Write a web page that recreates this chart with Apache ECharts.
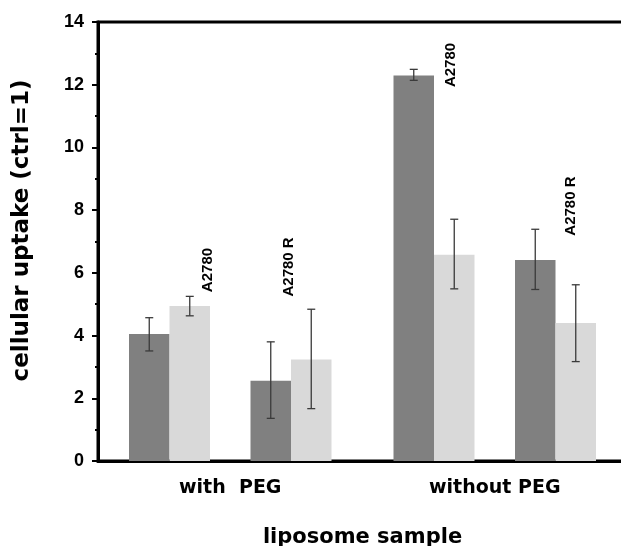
<!DOCTYPE html>
<html>
<head>
<meta charset="utf-8">
<script src="https://cdn.jsdelivr.net/npm/echarts@6/dist/echarts.min.js"></script>
<style>
  html, body { margin: 0; padding: 0; background: #fff; }
  #chart { width: 621px; height: 546px; }
</style>
</head>
<body>
<div id="chart"></div>
<script>
// categories
const groups = ['with  PEG', 'without PEG'];

// bar values per series (index = group)
const darkA2780 = [4.05, 12.29];
const lightA2780 = [4.94, 6.58];
const darkA2780R = [2.56, 6.41];
const lightA2780R = [3.24, 4.40];

// error bars [low, high]
const darkA2780Err = [[3.51, 4.57], [12.14, 12.49]];
const lightA2780Err = [[4.63, 5.25], [5.49, 7.71]];
const darkA2780RErr = [[1.36, 3.80], [5.47, 7.39]];
const lightA2780RErr = [[1.67, 4.84], [3.17, 5.62]];

// rotated cell line annotations
const labelTexts = ['A2780', 'A2780 R', 'A2780', 'A2780 R'];
const labelGroups = [0, 0, 1, 1];
const labelValues = [6.09, 6.19, 12.63, 8.13];

const yTicks = [0, 2, 4, 6, 8, 10, 12, 14];

const FONT = '"Liberation Sans", Arial, sans-serif';
const WIDE = '"DejaVu Sans", sans-serif';
const BAR_W = 40.5;
const labelSlots = [1.95, 3.95, 1.41, 4.37]; // in bar widths from group's left edge

const chart = echarts.init(document.getElementById('chart'));

// slot 0 = dark A2780, 1 = light A2780, 2 = spacer, 3 = dark R, 4 = light R
const errData = [];
[[darkA2780Err, 0], [lightA2780Err, 1], [darkA2780RErr, 3], [lightA2780RErr, 4]].forEach(function (p) {
  p[0].forEach(function (e, g) {
    errData.push([g, p[1], e[0], e[1]]);
  });
});

const labelData = labelTexts.map(function (t, i) {
  return [labelGroups[i], labelSlots[i], labelValues[i]];
});

function barSeries(name, data, color) {
  return {
    name: name,
    type: 'bar',
    data: data,
    barWidth: BAR_W,
    barGap: '0%',
    itemStyle: { color: color },
    emphasis: { disabled: true },
    z: 2
  };
}

const option = {
  animation: false,
  grid: {
    left: 98, width: 529, top: 22, bottom: 85,
    outerBoundsMode: 'none',
    containLabel: false,
    show: true, borderColor: '#000', borderWidth: 3
  },
  xAxis: {
    type: 'category',
    data: groups,
    axisLine: { lineStyle: { color: '#000', width: 3 } },
    axisTick: { show: false },
    axisLabel: { color: '#000', fontWeight: 'bold', fontSize: 19, fontFamily: WIDE, margin: 18 },
    name: 'liposome sample',
    nameLocation: 'middle',
    nameGap: 66,
    nameTextStyle: { color: '#000', fontWeight: 'bold', fontSize: 21, fontFamily: WIDE }
  },
  yAxis: {
    type: 'value',
    min: yTicks[0],
    max: yTicks[yTicks.length - 1],
    interval: 2,
    axisLine: { show: true, lineStyle: { color: '#000', width: 3 } },
    axisTick: { show: true, length: 6, lineStyle: { color: '#000', width: 2 } },
    minorTick: { show: true, splitNumber: 2, length: 3, lineStyle: { color: '#000', width: 2 } },
    splitLine: { show: false },
    axisLabel: { color: '#000', fontWeight: 'bold', fontSize: 18, fontFamily: FONT, margin: 14 },
    name: 'cellular uptake (ctrl=1)',
    nameLocation: 'middle',
    nameGap: 64,
    nameTextStyle: { color: '#000', fontWeight: 'bold', fontSize: 23, fontFamily: WIDE, padding: [0, 0, 0, 22] }
  },
  series: [
    barSeries('A2780 dark', darkA2780, '#808080'),
    barSeries('A2780 light', lightA2780, '#d9d9d9'),
    barSeries('spacer', ['-', '-'], 'rgba(0,0,0,0)'),
    barSeries('A2780 R dark', darkA2780R, '#808080'),
    barSeries('A2780 R light', lightA2780R, '#d9d9d9'),
    {
      type: 'custom',
      name: 'error',
      data: errData,
      z: 5,
      renderItem: function (params, api) {
        const c = api.coord([api.value(0), api.value(2)]);
        const top = api.coord([api.value(0), api.value(3)]);
        const x = c[0] + (api.value(1) - 2) * BAR_W;
        const y0 = c[1], y1 = top[1];
        const style = { stroke: '#3a3a3a', lineWidth: 1.3 };
        return {
          type: 'group',
          children: [
            { type: 'line', shape: { x1: x, y1: y0, x2: x, y2: y1 }, style: style },
            { type: 'line', shape: { x1: x - 4, y1: y0, x2: x + 4, y2: y0 }, style: style },
            { type: 'line', shape: { x1: x - 4, y1: y1, x2: x + 4, y2: y1 }, style: style }
          ]
        };
      }
    },
    {
      type: 'custom',
      name: 'labels',
      data: labelData,
      z: 6,
      renderItem: function (params, api) {
        const c = api.coord([api.value(0), api.value(2)]);
        const x = c[0] + (api.value(1) - 2.5) * BAR_W;
        return {
          type: 'text',
          x: x,
          y: c[1],
          rotation: Math.PI / 2,
          style: {
            text: labelTexts[params.dataIndex],
            fill: '#000',
            font: 'bold 15px ' + FONT,
            textAlign: 'center',
            textVerticalAlign: 'middle'
          }
        };
      }
    }
  ]
};

chart.setOption(option);
</script>
</body>
</html>
